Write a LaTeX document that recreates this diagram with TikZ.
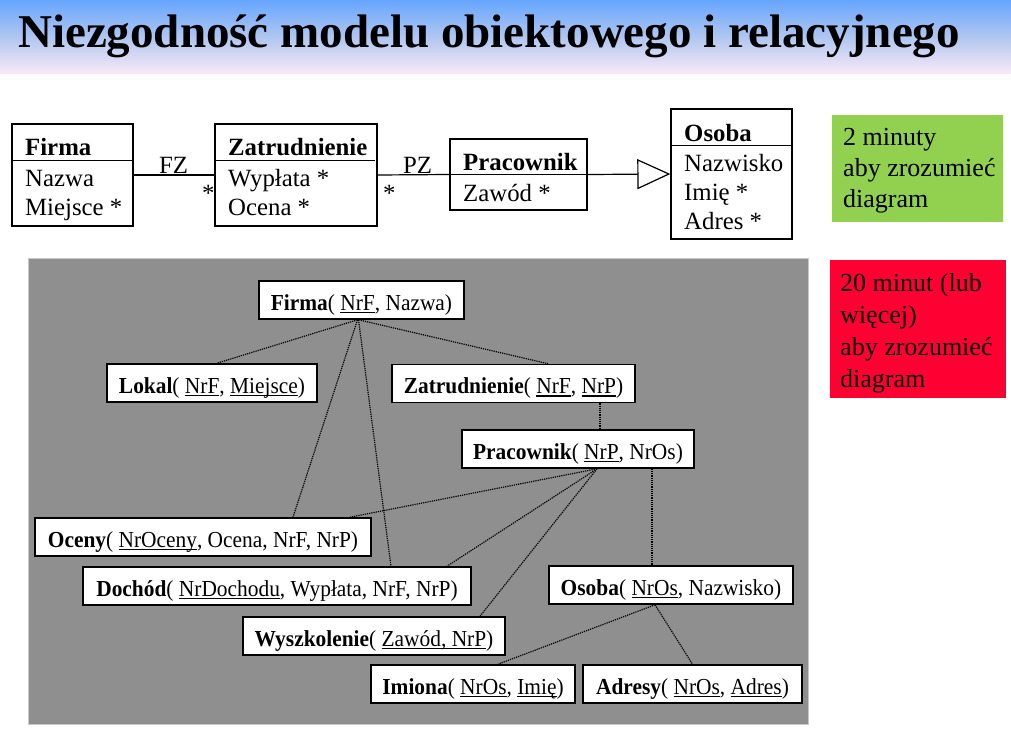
\documentclass[tikz,border=0pt]{standalone}
\usepackage{fontspec}
\usepackage{graphicx}
\setmainfont{Liberation Serif}
\usetikzlibrary{arrows.meta,calc}
\definecolor{titletop}{RGB}{102,166,255}
\definecolor{titlemid}{RGB}{176,198,240}
\definecolor{titlebot}{RGB}{250,234,248}
\definecolor{panelgray}{RGB}{143,143,143}
\definecolor{paneledge}{RGB}{200,200,200}
\definecolor{greenbox}{RGB}{146,208,80}
\definecolor{redbox}{RGB}{255,0,51}
\newcommand\ulx[1]{\setbox0\hbox{#1}\rlap{\rule[-2.8pt]{\wd0}{1.1pt}}\box0}
\newcommand\reltext[1]{\scalebox{1}[1.07]{#1}}
\tikzset{
  relbox/.style={draw=black, line width=1.6pt, fill=white, inner sep=0pt,
    minimum height=38pt, text height=24pt, text depth=4pt,
    font=\fontsize{21.4}{24}\selectfont},
  umlbox/.style={draw=black, line width=1.4pt, inner sep=0pt},
  umlline/.style={draw=black, line width=1.2pt},
  umltext/.style={anchor=base west, inner sep=0pt, font=\fontsize{24.8}{29}\selectfont},
  notetext/.style={anchor=base west, inner sep=0pt, font=\fontsize{26}{31}\selectfont},
  fkline/.style={densely dotted, line width=1.2pt, black},
}
\begin{document}
\begin{tikzpicture}[x=1pt,y=-1pt]
\useasboundingbox (0,0) rectangle (1011,733);
\fill[white] (0,0) rectangle (1011,733);
% title band
\shade[top color=titletop, bottom color=titlebot, middle color=titlemid] (0,0) rectangle (1011,74);
\node[anchor=base west, inner sep=0pt, font=\fontsize{47}{50}\selectfont\bfseries] (title) at (18,48) {Niezgodność modelu obiektowego i relacyjnego};

% UML class diagram
\node[umlbox, minimum width=121pt, minimum height=102pt] (uFirma) at (72.5,175) {};
\node[umlbox, minimum width=162pt, minimum height=102pt] (uZatr) at (296,175) {};
\node[umlbox, minimum width=137pt, minimum height=71pt] (uPrac) at (518.5,174.5) {};
\node[umlbox, minimum width=121pt, minimum height=130pt] (uOsoba) at (731.5,174) {};
\draw[umlline] ($(uFirma.north west)+(0,37)$) -- ($(uFirma.north east)+(0,37)$);
\draw[umlline] ($(uZatr.north west)+(0,37)$) -- ($(uZatr.north east)+(-3,37)$);
\draw[umlline] ($(uPrac.north west)+(0,36)$) -- ($(uPrac.north east)+(0,36)$);
\draw[umlline] ($(uOsoba.north west)+(0,37)$) -- ($(uOsoba.north east)+(0,37)$);

\node[umltext] (tFirma) at (25,155) {\textbf{Firma}};
\node[umltext] (tFirma1) at (25,186) {Nazwa};
\node[umltext] (tFirma2) at (25,215) {Miejsce *};
\node[umltext] (tZatr) at (228,155) {\textbf{Zatrudnienie}};
\node[umltext] (tZatr1) at (228,186) {Wypłata *};
\node[umltext] (tZatr2) at (228,215) {Ocena *};
\node[umltext] (tPrac) at (463,170) {\textbf{Pracownik}};
\node[umltext] (tPrac1) at (463,201) {Zawód *};
\node[umltext] (tOsoba) at (684,141) {\textbf{Osoba}};
\node[umltext] (tOsoba1) at (684,171) {Nazwisko};
\node[umltext] (tOsoba2) at (684,200) {Imię *};
\node[umltext] (tOsoba3) at (684,229) {Adres *};

\draw[umlline] (uFirma.east) -- (uZatr.west);
\draw[umlline] (uZatr.east) -- (uPrac.west);
\draw[umlline, -{Triangle[open, length=33pt, width=30pt, line width=1.2pt]}] (uPrac.east) -- (uOsoba.west);
\node[umltext] (lFZ) at (159,173) {FZ};
\node[umltext] (lFZs) at (202,201) {*};
\node[umltext] (lPZ) at (403,173) {PZ};
\node[umltext] (lPZs) at (383,201) {*};

% notes
\node[fill=greenbox, minimum width=171pt, minimum height=107pt, inner sep=0pt] (gBox) at (917.5,168.5) {};
\node[notetext] (g1) at (843,145) {2 minuty};
\node[notetext] (g2) at (843,176) {aby zrozumieć};
\node[notetext] (g3) at (843,207) {diagram};
\node[fill=redbox, minimum width=176pt, minimum height=138pt, inner sep=0pt] (rBox) at (918,329) {};
\node[notetext] (r1) at (840,291) {20 minut (lub};
\node[notetext] (r2) at (840,323) {więcej)};
\node[notetext] (r3) at (840,355) {aby zrozumieć};
\node[notetext] (r4) at (840,387) {diagram};

% relational panel
\draw[fill=panelgray, draw=paneledge, line width=1pt] (28,258) rectangle (808,724);
\node[relbox, minimum width=205pt] (rFirma) at (361.5,300) {\reltext{\textbf{Firma}( \ulx{NrF}, Nazwa)}};
\node[relbox, minimum width=210pt] (rLokal) at (212,383) {\reltext{\textbf{Lokal}( \ulx{NrF}, \ulx{Miejsce})}};
\node[relbox, minimum width=243pt] (rZatr) at (513.5,383.5) {\reltext{\textbf{Zatrudnienie}( \ulx{NrF}, \ulx{NrP})}};
\node[relbox, minimum width=232pt] (rPrac) at (578,449) {\reltext{\textbf{Pracownik}( \ulx{NrP}, NrOs)}};
\node[relbox, minimum width=336pt] (rOceny) at (203,537) {\reltext{\textbf{Oceny}( \ulx{NrOceny}, Ocena, NrF, NrP)}};
\node[relbox, minimum width=388pt] (rDoch) at (277,586) {\reltext{\textbf{Dochód}( \ulx{NrDochodu}, Wypłata, NrF, NrP)}};
\node[relbox, minimum width=262pt] (rWysz) at (374,636) {\reltext{\textbf{Wyszkolenie}( \ulx{Zawód, NrP})}};
\node[relbox, minimum width=244pt] (rOsoba) at (671,585) {\reltext{\textbf{Osoba}( \ulx{NrOs}, Nazwisko)}};
\node[relbox, minimum width=204pt] (rImiona) at (473,684) {\reltext{\textbf{Imiona}( \ulx{NrOs}, \ulx{Imię})}};
\node[relbox, minimum width=219pt] (rAdresy) at (692.5,684) {\reltext{\textbf{Adresy}( \ulx{NrOs}, \ulx{Adres})}};

\draw[fkline] ($(rFirma.south)+(-4,0)$) -- ($(rLokal.north)+(5,0)$);
\draw[fkline] ($(rFirma.south)+(-3,0)$) -- ($(rZatr.north)+(34.5,0)$);
\draw[fkline] ($(rFirma.south)+(-4,0)$) -- ($(rOceny.north)+(90,0)$);
\draw[fkline] ($(rFirma.south)+(-3,0)$) -- ($(rDoch.north)+(114,0)$);
\draw[fkline] ($(rZatr.south)+(86.5,0)$) -- ($(rPrac.north)+(22,0)$);
\draw[fkline] ($(rPrac.south)+(19,0)$) -- ($(rOceny.north)+(147,0)$);
\draw[fkline] ($(rPrac.south)+(19,0)$) -- ($(rDoch.north)+(170,0)$);
\draw[fkline] ($(rPrac.south)+(19,0)$) -- ($(rWysz.north)+(106,0)$);
\draw[fkline] ($(rPrac.south)+(74,0)$) -- ($(rOsoba.north)+(-19,0)$);
\draw[fkline] ($(rOsoba.south)+(-16,0)$) -- ($(rImiona.north)+(25,0)$);
\draw[fkline] ($(rOsoba.south)+(-16,0)$) -- ($(rAdresy.north)+(0,0)$);
\end{tikzpicture}
\end{document}
